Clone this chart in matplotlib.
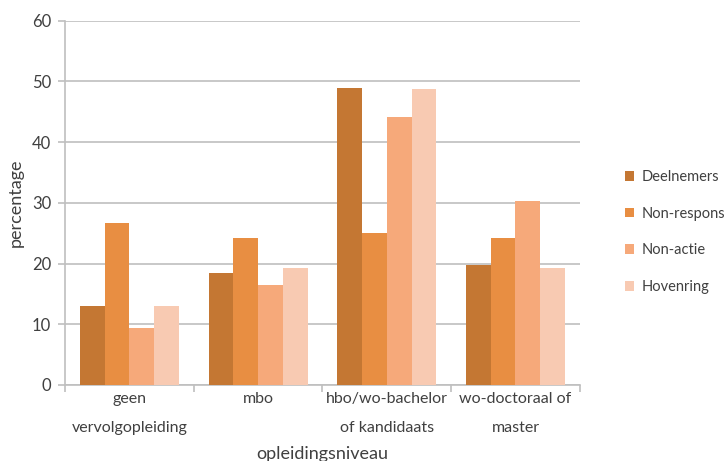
import matplotlib.pyplot as plt
import numpy as np

plt.rcParams['font.family'] = ['Lato', 'DejaVu Sans']

# Opleidingsniveau per groep (percentages)
niveaus = ['geen\nvervolgopleiding', 'mbo', 'hbo/wo-bachelor\nof kandidaats', 'wo-doctoraal of\nmaster']
deelnemers = [13.0, 18.5, 49.0, 19.7]
non_respons = [26.7, 24.2, 25.1, 24.2]
non_actie = [9.3, 16.4, 44.2, 30.3]
hovenring = [13.0, 19.2, 48.8, 19.2]

reeksen = ['Deelnemers', 'Non-respons', 'Non-actie', 'Hovenring']
kleuren = ['#C47733', '#E88E42', '#F6A97A', '#F8CAB2']
waarden = [deelnemers, non_respons, non_actie, hovenring]

tekst = '#404040'
raster = '#BFBFBF'

fig = plt.figure(figsize=(7.25, 4.61), dpi=100)
ax = fig.add_axes([0.0897, 0.165, 0.71, 0.790])

x = np.arange(len(niveaus))
breedte = 0.77 / 4
for i, (naam, kleur, w) in enumerate(zip(reeksen, kleuren, waarden)):
    ax.bar(x - 0.385 + breedte * (i + 0.5), w, breedte, color=kleur, label=naam, zorder=3)

ax.set_xlim(-0.5, len(niveaus) - 0.5)
ax.set_ylim(0, 60)
ax.set_yticks(range(0, 61, 10))
ax.yaxis.grid(True, color=raster, linewidth=1.2, zorder=0)

# labels midden in de categorie, streepjes op de grenzen
ax.set_xticks(x)
ax.set_xticklabels(niveaus, fontsize=11.5, color=tekst, linespacing=2.35)
ax.set_xticks(np.arange(-0.5, len(niveaus)), minor=True)
ax.tick_params(axis='x', which='major', length=0, pad=5)
ax.tick_params(axis='x', which='minor', length=5, color=raster, width=1.2)
ax.tick_params(axis='y', length=5, color=raster, width=1.2, labelsize=12, labelcolor=tekst, pad=5)

for s in ['top', 'right']:
    ax.spines[s].set_visible(False)
for s in ['left', 'bottom']:
    ax.spines[s].set_color(raster)
    ax.spines[s].set_linewidth(1.2)

ax.set_ylabel('percentage', fontsize=13, color=tekst, labelpad=6)
ax.set_xlabel('opleidingsniveau', fontsize=13, color=tekst, labelpad=8)

fig.legend(loc='center left', bbox_to_anchor=(0.854, 0.497), frameon=False, fontsize=10.5,
           handlelength=0.65, handleheight=0.65, handletextpad=0.5, labelspacing=1.55,
           borderaxespad=0, labelcolor=tekst)

fig.savefig('out.png', dpi=100)
